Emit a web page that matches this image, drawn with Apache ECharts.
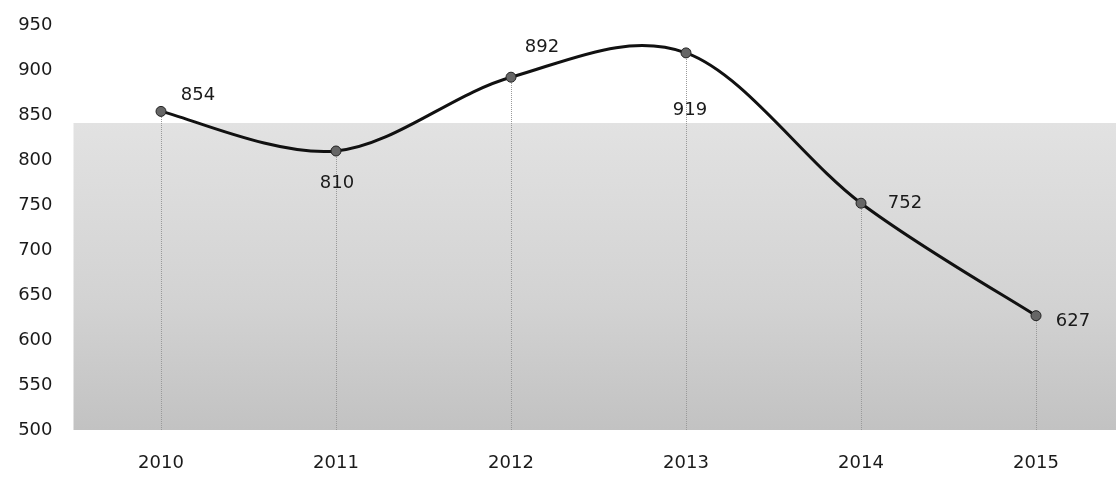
<!DOCTYPE html>
<html>
<head>
<meta charset="utf-8">
<script src="https://cdn.jsdelivr.net/npm/echarts@6/dist/echarts.min.js"></script>
<style>
html,body{margin:0;padding:0;background:#fff;}
#chart{width:1116px;height:479px;}
</style>
</head>
<body>
<div id="chart"></div>
<script>
var years = [2010, 2011, 2012, 2013, 2014, 2015];
var values = [854, 810, 892, 919, 752, 627];
var yTicks = [500, 550, 600, 650, 700, 750, 800, 850, 900, 950];
var shadeTop = 841;

// label placement (style only)
var labelOffsets = [[37,-16],[1,32],[31,-30],[4,57],[44,0],[37,6]];

var chart = echarts.init(document.getElementById('chart'), null, {renderer:'canvas'});
var font = 'DejaVu Sans';
var seriesData = years.map(function(y,i){
  return {
    value:[y, values[i]],
    label:{offset: labelOffsets[i]}
  };
});
var dropLines = years.map(function(y,i){
  return [{coord:[y, yTicks[0]]},{coord:[y, values[i]]}];
});

// Excel-like smoothed curve drawn through the library's coordinate system
function renderCurve(params, api){
  if (params.dataIndex !== 0) return null;
  var pts = years.map(function(y,i){ return api.coord([y, values[i]]); });
  var n = pts.length;
  var d = 'M' + pts[0][0] + ' ' + pts[0][1];
  for (var i = 0; i < n - 1; i++){
    var p0 = pts[Math.max(i-1,0)], p1 = pts[i], p2 = pts[i+1], p3 = pts[Math.min(i+2,n-1)];
    var c1x = p1[0] + (p2[0]-p0[0])/6, c1y = p1[1] + (p2[1]-p0[1])/6;
    var c2x = p2[0] - (p3[0]-p1[0])/6, c2y = p2[1] - (p3[1]-p1[1])/6;
    d += ' C' + c1x + ' ' + c1y + ' ' + c2x + ' ' + c2y + ' ' + p2[0] + ' ' + p2[1];
  }
  return {
    type:'path',
    shape:{pathData:d},
    style:{fill:null, stroke:'#111', lineWidth:3}
  };
}

chart.setOption({
  animation:false,
  grid:{left:73.5, right:0, top:25, bottom:49},
  xAxis:{
    type:'value',
    min:2009.5,
    max:2015.457,
    axisLine:{show:false},
    axisTick:{show:false},
    splitLine:{show:false},
    axisLabel:{
      customValues: years,
      formatter:function(v){return String(v);},
      margin:24,
      fontFamily:font,
      fontSize:18,
      color:'#1a1a1a'
    }
  },
  yAxis:{
    type:'value',
    min:500,
    max:950,
    interval:50,
    axisLine:{show:false},
    axisTick:{show:false},
    splitLine:{show:false},
    axisLabel:{
      margin:21,
      fontFamily:font,
      fontSize:18,
      color:'#1a1a1a'
    }
  },
  series:[{
    type:'custom',
    renderItem:renderCurve,
    data:years.map(function(y,i){return [y, values[i]];}),
    z:3,
    silent:true
  },{
    type:'line',
    data:seriesData,
    symbol:'circle',
    symbolSize:10,
    z:5,
    lineStyle:{width:0, opacity:0},
    itemStyle:{color:'#666', borderColor:'#222', borderWidth:1},
    label:{
      show:true,
      position:'inside',
      fontFamily:font,
      fontSize:18,
      color:'#1a1a1a',
      formatter:function(p){return p.value[1];}
    },
    markArea:{
      silent:true,
      z:0,
      itemStyle:{
        color:{
          type:'linear', x:0, y:0, x2:0, y2:1,
          colorStops:[
            {offset:0, color:'#e2e2e2'},
            {offset:0.6, color:'#d2d2d2'},
            {offset:1, color:'#c2c2c2'}
          ]
        }
      },
      data:[[{yAxis:yTicks[0]},{yAxis:shadeTop}]]
    },
    markLine:{
      silent:true,
      symbol:'none',
      label:{show:false},
      lineStyle:{color:'#9a9a9a', type:'dotted', width:1},
      data:dropLines
    }
  }]
});
</script>
</body>
</html>
